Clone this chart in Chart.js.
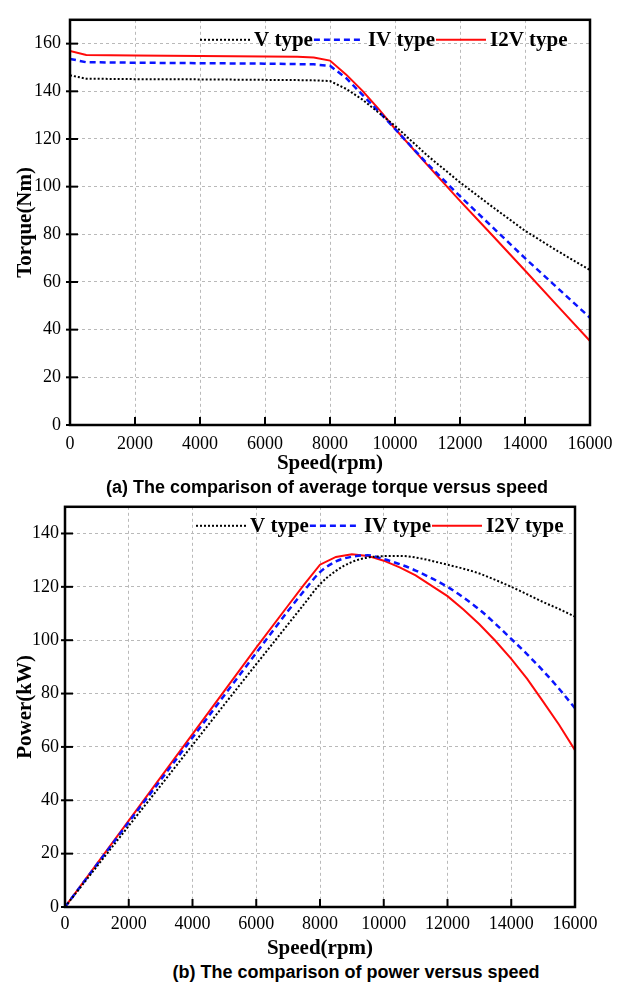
<!DOCTYPE html>
<html><head><meta charset="utf-8">
<script src="https://cdn.jsdelivr.net/npm/chart.js@4"></script>
<style>
html,body{margin:0;padding:0;background:#fff;}
body{width:624px;height:984px;position:relative;overflow:hidden;}
#c1{position:absolute;left:0;top:0;}
#c2{position:absolute;left:0;top:490px;}
.cap{position:absolute;font-family:"Liberation Sans",Arial,sans-serif;font-weight:bold;font-size:18px;white-space:nowrap;color:#000;transform:translate(-50%,-50%);}
</style></head><body>
<canvas id="c1" width="624" height="476"></canvas>
<canvas id="c2" width="624" height="471"></canvas>
<div class="cap" style="left:327px;top:487px">(a) The comparison of average torque versus speed</div>
<div class="cap" style="left:356px;top:972px">(b) The comparison of power versus speed</div>
<script>
// ---------- data ----------
const seriesNames = ['V type', 'IV type', 'I2V type'];

const speedTorque = [0,500,2000,4000,6000,7000,7500,8000,8500,9000,9500,10000,11000,12000,13000,14000,15000,16000];
const torqueV   = [146.7,145.3,145.1,145.0,144.8,144.7,144.6,144.3,141.0,136.5,131.0,125.5,113.0,101.8,91.5,81.5,73.0,65.0];
const torqueIV  = [153.6,152.2,152.0,151.8,151.6,151.4,151.3,150.7,145.5,138.5,131.5,124.2,109.5,96.0,83.0,70.0,57.5,45.0];
const torqueI2V = [156.9,155.2,155.0,154.8,154.6,154.5,154.2,152.9,147.0,140.2,132.5,124.3,109.0,94.0,79.5,64.8,50.0,35.2];

const speedPower = [0,1000,2000,3000,4000,5000,6000,7000,7500,8000,8500,9000,9500,10000,10500,11000,12000,12500,13000,13500,14000,14500,15000,15500,16000];
const powerV   = [0,15.2,30.4,45.5,60.7,75.9,91.0,106.0,113.5,121.0,126.0,129.3,131.0,131.5,131.6,131.0,128.3,126.8,125.0,122.6,120.0,117.2,114.3,111.7,108.8];
const powerIV  = [0,15.9,31.8,47.6,63.5,79.4,95.2,111.0,118.5,125.5,129.5,131.3,131.8,130.4,128.5,126.1,120.0,116.0,111.5,106.2,100.5,94.7,88.5,81.8,74.5];
const powerI2V = [0,16.2,32.4,48.6,64.8,81.0,97.2,113.0,120.8,128.3,131.2,132.2,131.6,129.8,127.3,124.3,116.5,111.5,106.0,99.8,93.0,85.5,77.0,68.3,58.8];

const xTickStep = 2000, yTickStep = 20;

// ---------- helpers ----------
const serif = '"Liberation Serif","Times New Roman",serif';
const styles = [
  {borderColor:'#000000', borderWidth:2, borderDash:[2,2]},
  {borderColor:'#0a14ff', borderWidth:2.5, borderDash:[6,4]},
  {borderColor:'#ff0a0a', borderWidth:2, borderDash:[]}
];
function pts(xs, ys){ return xs.map((x,i)=>({x:x, y:ys[i]})); }

const framePlugin = {
  id:'frame',
  afterDraw(chart, args, opts){
    const ctx = chart.ctx, a = chart.chartArea;
    ctx.save();
    // inward tick marks
    ctx.strokeStyle = '#000'; ctx.lineWidth = 2; ctx.setLineDash([]);
    const xs = chart.scales.x, ys = chart.scales.y;
    xs.ticks.forEach(t=>{ const p = xs.getPixelForValue(t.value);
      ctx.beginPath(); ctx.moveTo(p, a.bottom); ctx.lineTo(p, a.bottom-8); ctx.stroke(); });
    ys.ticks.forEach(t=>{ const p = ys.getPixelForValue(t.value);
      ctx.beginPath(); ctx.moveTo(a.left-4, p); ctx.lineTo(a.left+8, p); ctx.stroke(); });
    // frame
    ctx.lineWidth = 2.5;
    ctx.strokeRect(a.left, a.top, a.right-a.left, a.bottom-a.top);
    // legend
    let x = a.left + opts.dx, y = a.top + opts.dy;
    ctx.font = 'bold 21px ' + serif;
    ctx.textBaseline = 'middle'; ctx.textAlign = 'left'; ctx.fillStyle = '#000';
    chart.data.datasets.forEach(ds=>{
      ctx.save();
      ctx.strokeStyle = ds.borderColor; ctx.lineWidth = ds.borderWidth;
      ctx.setLineDash(ds.borderDash || []);
      ctx.beginPath(); ctx.moveTo(x, y); ctx.lineTo(x+opts.len, y); ctx.stroke();
      ctx.restore();
      x += opts.len + 4;
      ctx.fillText(ds.label, x, y+1);
      x += ctx.measureText(ds.label).width + 1;
    });
    ctx.restore();
  }
};

function makeChart(id, xs, ysArr, yMax, yTitle, yWidth, pad, legendPos, smooth){
  const datasets = ysArr.map((ys,i)=>Object.assign({
    label: seriesNames[i],
    data: pts(xs, ys),
    pointRadius:0, fill:false,
    tension:0,
    cubicInterpolationMode: (smooth && i<2) ? 'monotone' : 'default',
    borderCapStyle:'butt'
  }, styles[i]));
  return new Chart(document.getElementById(id), {
    type:'line',
    data:{datasets},
    plugins:[framePlugin],
    options:{
      responsive:false, animation:false, devicePixelRatio:1,
      layout:{padding:pad},
      plugins:{legend:{display:false}, tooltip:{enabled:false}, frame:legendPos},
      scales:{
        x:{type:'linear', min:0, max:16000,
          ticks:{stepSize:xTickStep, padding:legendPos.xpad, color:'#000', font:{family:serif, size:18}, maxRotation:0,
                 callback:(v)=>String(v)},
          grid:{color:'#b9b9b9', lineWidth:1, drawTicks:false},
          border:{display:false, dash:[3,3]},
          title:{display:true, text:'Speed(rpm)', color:'#000', font:{family:serif, size:21, weight:'bold'}, padding:{top:0,bottom:0}},
          afterFit(s){ s.height = legendPos.xh; }
        },
        y:{type:'linear', min:0, max:yMax,
          ticks:{stepSize:yTickStep, padding:legendPos.ypad, color:'#000', font:{family:serif, size:18},
                 callback:(v)=>String(v)},
          afterBuildTicks(s){ s.ticks = s.ticks.filter(t=>t.value % yTickStep === 0); },
          grid:{color:'#b9b9b9', lineWidth:1, drawTicks:false},
          border:{display:false, dash:[3,3]},
          title:{display:true, text:yTitle, color:'#000', font:{family:serif, size:21, weight:'bold'}, padding:{top:13,bottom:0}},
          afterFit(s){ s.width = yWidth; }
        }
      }
    }
  });
}

makeChart('c1', speedTorque, [torqueV, torqueIV, torqueI2V], 170, 'Torque(Nm)', 70,
  {top:8, right:34, left:0, bottom:0}, {dx:130, dy:20, len:50, xpad:8, ypad:9, xh:51}, false);
makeChart('c2', speedPower, [powerV, powerIV, powerI2V], 150, 'Power(kW)', 65,
  {top:8, right:49, left:0, bottom:0}, {dx:131, dy:19, len:50, xpad:6, ypad:6, xh:54}, true);
</script>
</body></html>
